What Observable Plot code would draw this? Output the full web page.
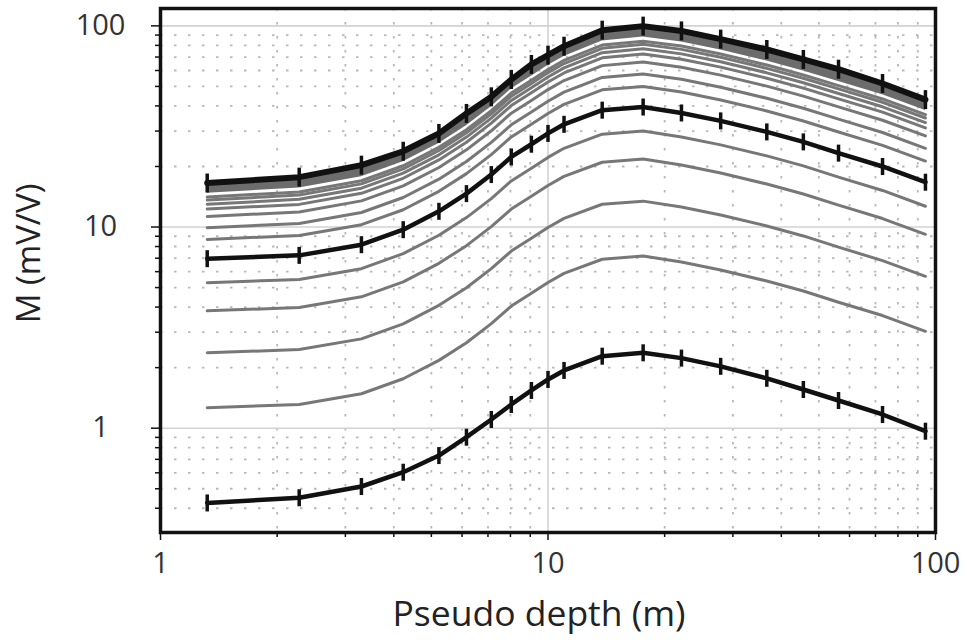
<!DOCTYPE html>
<html>
<head>
<meta charset="utf-8">
<script src="https://cdn.jsdelivr.net/npm/d3@7"></script>
<script src="https://cdn.jsdelivr.net/npm/@observablehq/plot@0.6"></script>
<style>
  html, body { margin: 0; padding: 0; background: #fff; }
  #chart svg { display: block; }
</style>
</head>
<body>
<div id="chart"></div>
<script>
// Pseudo depth (m) of each measurement point
const depth = [1.32, 2.28, 3.30, 4.23, 5.23, 6.16, 7.14, 8.04, 9.06, 10.0, 11.0, 13.8, 17.6, 22.1, 27.9, 36.7, 45.6, 56.2, 73.0, 94.2];

// Black curves (with markers)
const mTop    = [16.55, 17.7, 20.3, 23.8, 29.2, 36.7, 44.4, 54.1, 64.3, 71.5, 79.2, 95.2, 99.7, 94.4, 85.9, 76.3, 68.1, 60.9, 51.7, 43.0];
const mMiddle = [6.96, 7.23, 8.17, 9.70, 11.97, 14.66, 18.23, 22.3, 25.8, 29.2, 32.4, 38.1, 39.5, 36.9, 33.7, 29.7, 26.5, 23.3, 20.0, 16.7];
const mBottom = [0.425, 0.451, 0.513, 0.604, 0.731, 0.902, 1.105, 1.312, 1.54, 1.747, 1.937, 2.28, 2.37, 2.23, 2.03, 1.77, 1.557, 1.373, 1.17, 0.966];

// Lower edge of the dark grey band under the top curve
const mBandLow = [14.71, 15.63, 17.77, 21.10, 26.03, 31.89, 39.65, 48.50, 56.12, 63.51, 70.47, 84.01, 87.97, 83.17, 75.96, 66.94, 59.73, 52.94, 45.44, 37.94];

// Grey curves between the band and the middle black curve
const mU7 = [14.09, 14.94, 16.99, 20.17, 24.89, 30.48, 37.90, 46.36, 53.64, 60.71, 67.36, 80.24, 83.94, 79.34, 72.46, 63.86, 56.98, 50.47, 43.32, 36.17];
const mU6 = [13.61, 14.42, 16.39, 19.46, 24.01, 29.41, 36.57, 44.73, 51.75, 58.58, 64.99, 77.38, 80.94, 76.42, 69.79, 61.51, 54.88, 48.60, 41.72, 34.84];
const mU5 = [12.98, 13.73, 15.60, 18.52, 22.85, 27.99, 34.80, 42.57, 49.25, 55.74, 61.85, 73.57, 76.91, 72.58, 66.29, 58.42, 52.13, 46.13, 39.60, 33.07];
const mU4 = [12.28, 12.96, 14.71, 17.47, 21.56, 26.40, 32.83, 40.16, 46.47, 52.59, 58.35, 69.34, 72.44, 68.27, 62.35, 54.95, 49.03, 43.38, 37.24, 31.10];
const mU3 = [11.28, 11.89, 13.49, 16.01, 19.76, 24.20, 30.10, 36.82, 42.60, 48.21, 53.49, 63.44, 66.20, 62.32, 56.92, 50.16, 44.76, 39.56, 33.96, 28.36];
const mU2 = [9.93, 10.42, 11.81, 14.02, 17.30, 21.18, 26.34, 32.22, 37.28, 42.19, 46.82, 55.44, 57.71, 54.24, 49.54, 43.66, 38.96, 34.37, 29.50, 24.63];
const mU1 = [8.68, 9.07, 10.27, 12.19, 15.05, 18.43, 22.92, 28.03, 32.43, 36.70, 40.73, 48.08, 50.01, 46.90, 42.83, 37.75, 33.68, 29.68, 25.48, 21.28];

// Grey curves between the middle and bottom black curves
const mL1 = [5.29, 5.49, 6.21, 7.37, 9.10, 11.14, 13.85, 16.95, 19.61, 22.19, 24.62, 28.96, 30.02, 28.04, 25.61, 22.57, 20.14, 17.71, 15.2, 12.69];
const mL2 = [3.83, 3.98, 4.50, 5.34, 6.60, 8.08, 10.04, 12.29, 14.22, 16.09, 17.85, 20.99, 21.76, 20.33, 18.57, 16.36, 14.60, 12.84, 11.02, 9.20];
const mL3 = [2.37, 2.46, 2.78, 3.30, 4.08, 4.99, 6.21, 7.60, 8.79, 9.95, 11.04, 12.98, 13.45, 12.57, 11.48, 10.12, 9.03, 7.94, 6.81, 5.69];
const mL4 = [1.263, 1.312, 1.483, 1.761, 2.173, 2.661, 3.309, 4.047, 4.683, 5.300, 5.881, 6.915, 7.169, 6.697, 6.117, 5.391, 4.810, 4.229, 3.630, 3.031];

// Axis ticks
const majorTicks = [1, 10, 100];
const yMinorTicks = [0.4, 0.5, 0.6, 0.7, 0.8, 0.9, 2, 3, 4, 5, 6, 7, 8, 9, 20, 30, 40, 50, 60, 70, 80, 90];
const xMinorTicks = [2, 3, 4, 5, 6, 7, 8, 9, 20, 30, 40, 50, 60, 70, 80, 90];

const xTitle = "Pseudo depth (m)";
const yTitle = "M (mV/V)";

// ---- build tables ----
const greySeries = {U7: mU7, U6: mU6, U5: mU5, U4: mU4, U3: mU3, U2: mU2, U1: mU1, L1: mL1, L2: mL2, L3: mL3, L4: mL4};
const greyRows = Object.entries(greySeries).flatMap(([name, vals]) =>
  vals.map((v, i) => ({x: depth[i], y: v, s: name})));
const toRows = (vals) => vals.map((v, i) => ({x: depth[i], y: v}));
const bandRows = depth.map((d, i) => ({x: d, lo: mBandLow[i], hi: mTop[i]}));
const topRows = toRows(mTop), midRows = toRows(mMiddle), botRows = toRows(mBottom);

// vertical bar marker
const vbar = {
  draw(ctx, size) {
    const h = Math.sqrt(size / Math.PI);
    ctx.moveTo(0, -h);
    ctx.lineTo(0, h);
  }
};

const font = "'Open Sans', 'Noto Sans', sans-serif";

const chart = Plot.plot({
  width: 967,
  height: 640,
  marginLeft: 160,
  marginRight: 32,
  marginTop: 8,
  marginBottom: 108,
  style: {fontFamily: font, background: "#fff", color: "#333"},
  x: {type: "log", domain: [1, 100]},
  y: {type: "log", domain: [0.303, 122]},
  marks: [
    // minor dotted grid
    Plot.ruleY(yMinorTicks, {stroke: "#b8b8b8", strokeWidth: 1.8, strokeDasharray: "2.5,11.5"}),
    Plot.ruleX(xMinorTicks, {stroke: "#b8b8b8", strokeWidth: 1.8, strokeDasharray: "2.5,11.5"}),
    // major grid
    Plot.ruleY(majorTicks, {stroke: "#d2d2d2", strokeWidth: 1.6}),
    Plot.ruleX(majorTicks, {stroke: "#d2d2d2", strokeWidth: 1.6}),
    // dark band
    Plot.areaY(bandRows, {x: "x", y1: "lo", y2: "hi", fill: "#6c6c6c"}),
    // grey curves
    Plot.line(greyRows, {x: "x", y: "y", z: "s", stroke: "#777", strokeWidth: 3}),
    // black curves
    Plot.line(botRows, {x: "x", y: "y", stroke: "#111", strokeWidth: 4.5}),
    Plot.line(midRows, {x: "x", y: "y", stroke: "#111", strokeWidth: 4.5}),
    Plot.line(topRows, {x: "x", y: "y", stroke: "#111", strokeWidth: 6}),
    Plot.dot(botRows, {x: "x", y: "y", symbol: vbar, r: 8.5, fill: "none", stroke: "#111", strokeWidth: 3.5}),
    Plot.dot(midRows, {x: "x", y: "y", symbol: vbar, r: 8.5, fill: "none", stroke: "#111", strokeWidth: 3.5}),
    Plot.dot(topRows, {x: "x", y: "y", symbol: vbar, r: 9.5, fill: "none", stroke: "#111", strokeWidth: 3.5}),
    // axes
    Plot.axisY(majorTicks, {label: null, tickSize: 9, tickPadding: 51, textAnchor: "middle", fontSize: 29, tickFormat: d3.format("~g"), stroke: "#111", strokeWidth: 1.5, fill: "#333"}),
    Plot.axisY(yMinorTicks, {label: null, tickSize: 5, tickFormat: () => "", stroke: "#111", strokeWidth: 1.5}),
    Plot.axisX(majorTicks, {label: null, tickSize: 8, tickPadding: 12, fontSize: 29, tickFormat: d3.format("~g"), stroke: "#111", strokeWidth: 1.5, fill: "#333"}),
    Plot.axisX(xMinorTicks, {label: null, tickSize: 5, tickFormat: () => "", stroke: "#111", strokeWidth: 1.5}),
    // frame
    Plot.frame({stroke: "#111", strokeWidth: 3.5}),
    // axis titles
    Plot.text([xTitle], {frameAnchor: "bottom", text: d => d, textAnchor: "middle", lineAnchor: "middle", dy: 82, dx: -9, fontSize: 35.5, fill: "#222"}),
    Plot.text([yTitle], {frameAnchor: "left", text: d => d, textAnchor: "middle", lineAnchor: "middle", rotate: -90, dx: -131, dy: -17, fontSize: 33, fill: "#222"})
  ]
});

document.getElementById("chart").appendChild(chart);
</script>
</body>
</html>
